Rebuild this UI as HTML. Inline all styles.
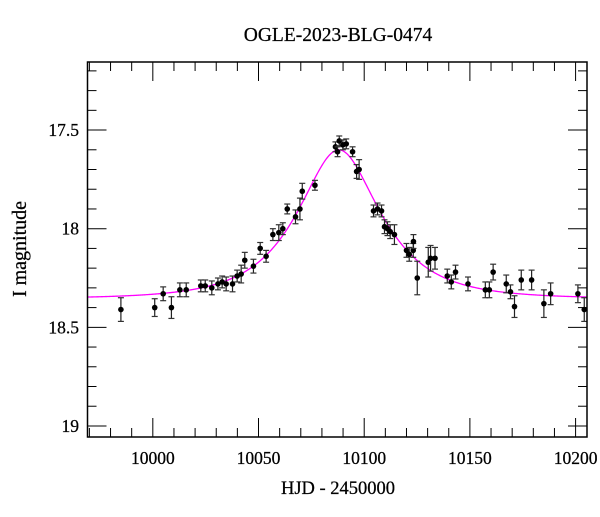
<!DOCTYPE html>
<html><head><meta charset="utf-8"><style>
html,body{margin:0;padding:0;background:#fff;}
svg text{font-family:"Liberation Serif",serif;fill:#000;stroke:#000;stroke-width:0.25;}
</style></head><body>
<svg id="chart" width="600" height="512" viewBox="0 0 600 512" xmlns="http://www.w3.org/2000/svg">
<text x="338" y="41" font-size="19.5" text-anchor="middle">OGLE-2023-BLG-0474</text>
<text transform="translate(26,249) rotate(-90)" font-size="20" text-anchor="middle">I magnitude</text>
<text x="338" y="494" font-size="18.5" text-anchor="middle">HJD - 2450000</text>
<g id="axes"></g>
<g id="model"></g>
<g id="pts"></g>
<rect x="87.5" y="62" width="499.5" height="375" fill="none" stroke="#000" stroke-width="1.5"/>
</svg>
<script>
const xTicks=[10000,10050,10100,10150,10200];
const yTicks=[17.5,18,18.5,19];
const yTickLabels=["17.5","18","18.5","19"];
const obsHJD=[9984.9,10000.9,10004.9,10008.8,10012.8,10015.8,10022.7,10024.8,10027.9,10030.8,10032.8,10034.7,10037.7,10039.9,10041.8,10043.5,10047.6,10050.8,10053.6,10056.8,10059.6,10061.5,10063.6,10067.5,10069.6,10070.7,10076.7,10086.4,10087.4,10088.2,10089.9,10091.5,10094.5,10096.4,10097.6,10104.4,10106.3,10108.2,10109.6,10111.0,10112.3,10114.3,10120.0,10121.3,10123.2,10123.3,10125.1,10130.3,10131.4,10133.5,10139.3,10141.2,10143.2,10149.1,10157.3,10159.2,10161.0,10167.2,10169.2,10171.1,10174.3,10179.2,10185.0,10188.2,10201.1,10204.1];
const obsMag=[18.41,18.40,18.33,18.40,18.31,18.31,18.29,18.29,18.30,18.28,18.27,18.28,18.28,18.24,18.23,18.16,18.19,18.10,18.14,18.03,18.02,18.00,17.90,17.94,17.90,17.81,17.78,17.585,17.61,17.555,17.575,17.57,17.61,17.71,17.70,17.91,17.90,17.91,17.99,18.00,18.015,18.03,18.11,18.13,18.11,18.065,18.25,18.17,18.15,18.15,18.24,18.27,18.22,18.28,18.31,18.31,18.22,18.28,18.32,18.395,18.26,18.26,18.38,18.33,18.33,18.41];
const obsErr=[0.06,0.045,0.035,0.055,0.035,0.035,0.03,0.03,0.035,0.03,0.03,0.035,0.04,0.03,0.045,0.04,0.035,0.03,0.03,0.03,0.04,0.03,0.025,0.035,0.055,0.04,0.025,0.025,0.025,0.025,0.025,0.025,0.025,0.035,0.05,0.03,0.03,0.03,0.035,0.035,0.035,0.05,0.035,0.035,0.035,0.035,0.085,0.075,0.065,0.055,0.035,0.035,0.035,0.035,0.04,0.04,0.04,0.045,0.035,0.055,0.05,0.05,0.07,0.055,0.045,0.06];
const modelT0=[10088.0];
const modelTE=[32.0];
const modelU0=[0.555];
const modelBase=[18.355];
const L=87.5,R=587,T=62,B=437;
const X0=9969.1,X1=10205.4,Y0=17.155,Y1=19.056;
const sx=v=>L+(v-X0)/(X1-X0)*(R-L);
const sy=v=>T+(v-Y0)/(Y1-Y0)*(B-T);
const NS="http://www.w3.org/2000/svg";
function mk(tag,attrs,parent){const e=document.createElementNS(NS,tag);for(const k in attrs)e.setAttribute(k,attrs[k]);parent.appendChild(e);return e;}
const ax=document.getElementById('axes');
for(let v=9970;v<=10205;v+=10){
  const major=v%50===0;const len=major?19:9;const x=sx(v);
  let t=mk('line',{x1:x,x2:x,y1:B,y2:B-len,stroke:'#000','stroke-width':1},ax);
  
  
  t=mk('line',{x1:x,x2:x,y1:T,y2:T+len,stroke:'#000','stroke-width':1},ax);
  
  
}
xTicks.forEach(v=>{
  const t=mk('text',{x:sx(v),y:464,'font-size':17.5,'text-anchor':'middle'},ax);
  t.textContent=String(v);
  
  
});
for(let i=12;i<=190;i++){
  const v=i/10;if(v<Y0||v>Y1)continue;
  const major=i%5===0;const len=major?19:9;const y=sy(v);
  let t=mk('line',{x1:L,x2:L+len,y1:y,y2:y,stroke:'#000','stroke-width':1},ax);
  
  
  t=mk('line',{x1:R,x2:R-len,y1:y,y2:y,stroke:'#000','stroke-width':1},ax);
  
  
}
yTicks.forEach((v,i)=>{
  const t=mk('text',{x:79,y:sy(v)+6,'font-size':17.5,'text-anchor':'end'},ax);
  t.textContent=yTickLabels[i];
  
  
});
function mag(t){const u0=modelU0[0],tau=(t-modelT0[0])/modelTE[0];const u=Math.sqrt(u0*u0+tau*tau);const A=(u*u+2)/(u*Math.sqrt(u*u+4));return modelBase[0]-2.5*Math.log10(A);}
let d='';for(let t=X0;t<=X1;t+=0.5){d+=(d?'L':'M')+sx(t).toFixed(2)+','+sy(mag(t)).toFixed(2);}
const mp=mk('path',{d:d,fill:'none',stroke:'#ff00ff','stroke-width':1.3},document.getElementById('model'));


const pg=document.getElementById('pts');
obsHJD.forEach((t,i)=>{
  const x=sx(t),y=sy(obsMag[i]),y1=sy(obsMag[i]-obsErr[i]),y2=sy(obsMag[i]+obsErr[i]);
  const g=mk('g',{},pg);
  
  
  mk('line',{x1:x,x2:x,y1:y1,y2:y2,stroke:'#222','stroke-width':1.2},g);
  mk('line',{x1:x-3,x2:x+3,y1:y1,y2:y1,stroke:'#333','stroke-width':1.2},g);
  mk('line',{x1:x-3,x2:x+3,y1:y2,y2:y2,stroke:'#333','stroke-width':1.2},g);
  mk('circle',{cx:x,cy:y,r:2.8,fill:'#000'},g);
});
</script>
</body></html>
